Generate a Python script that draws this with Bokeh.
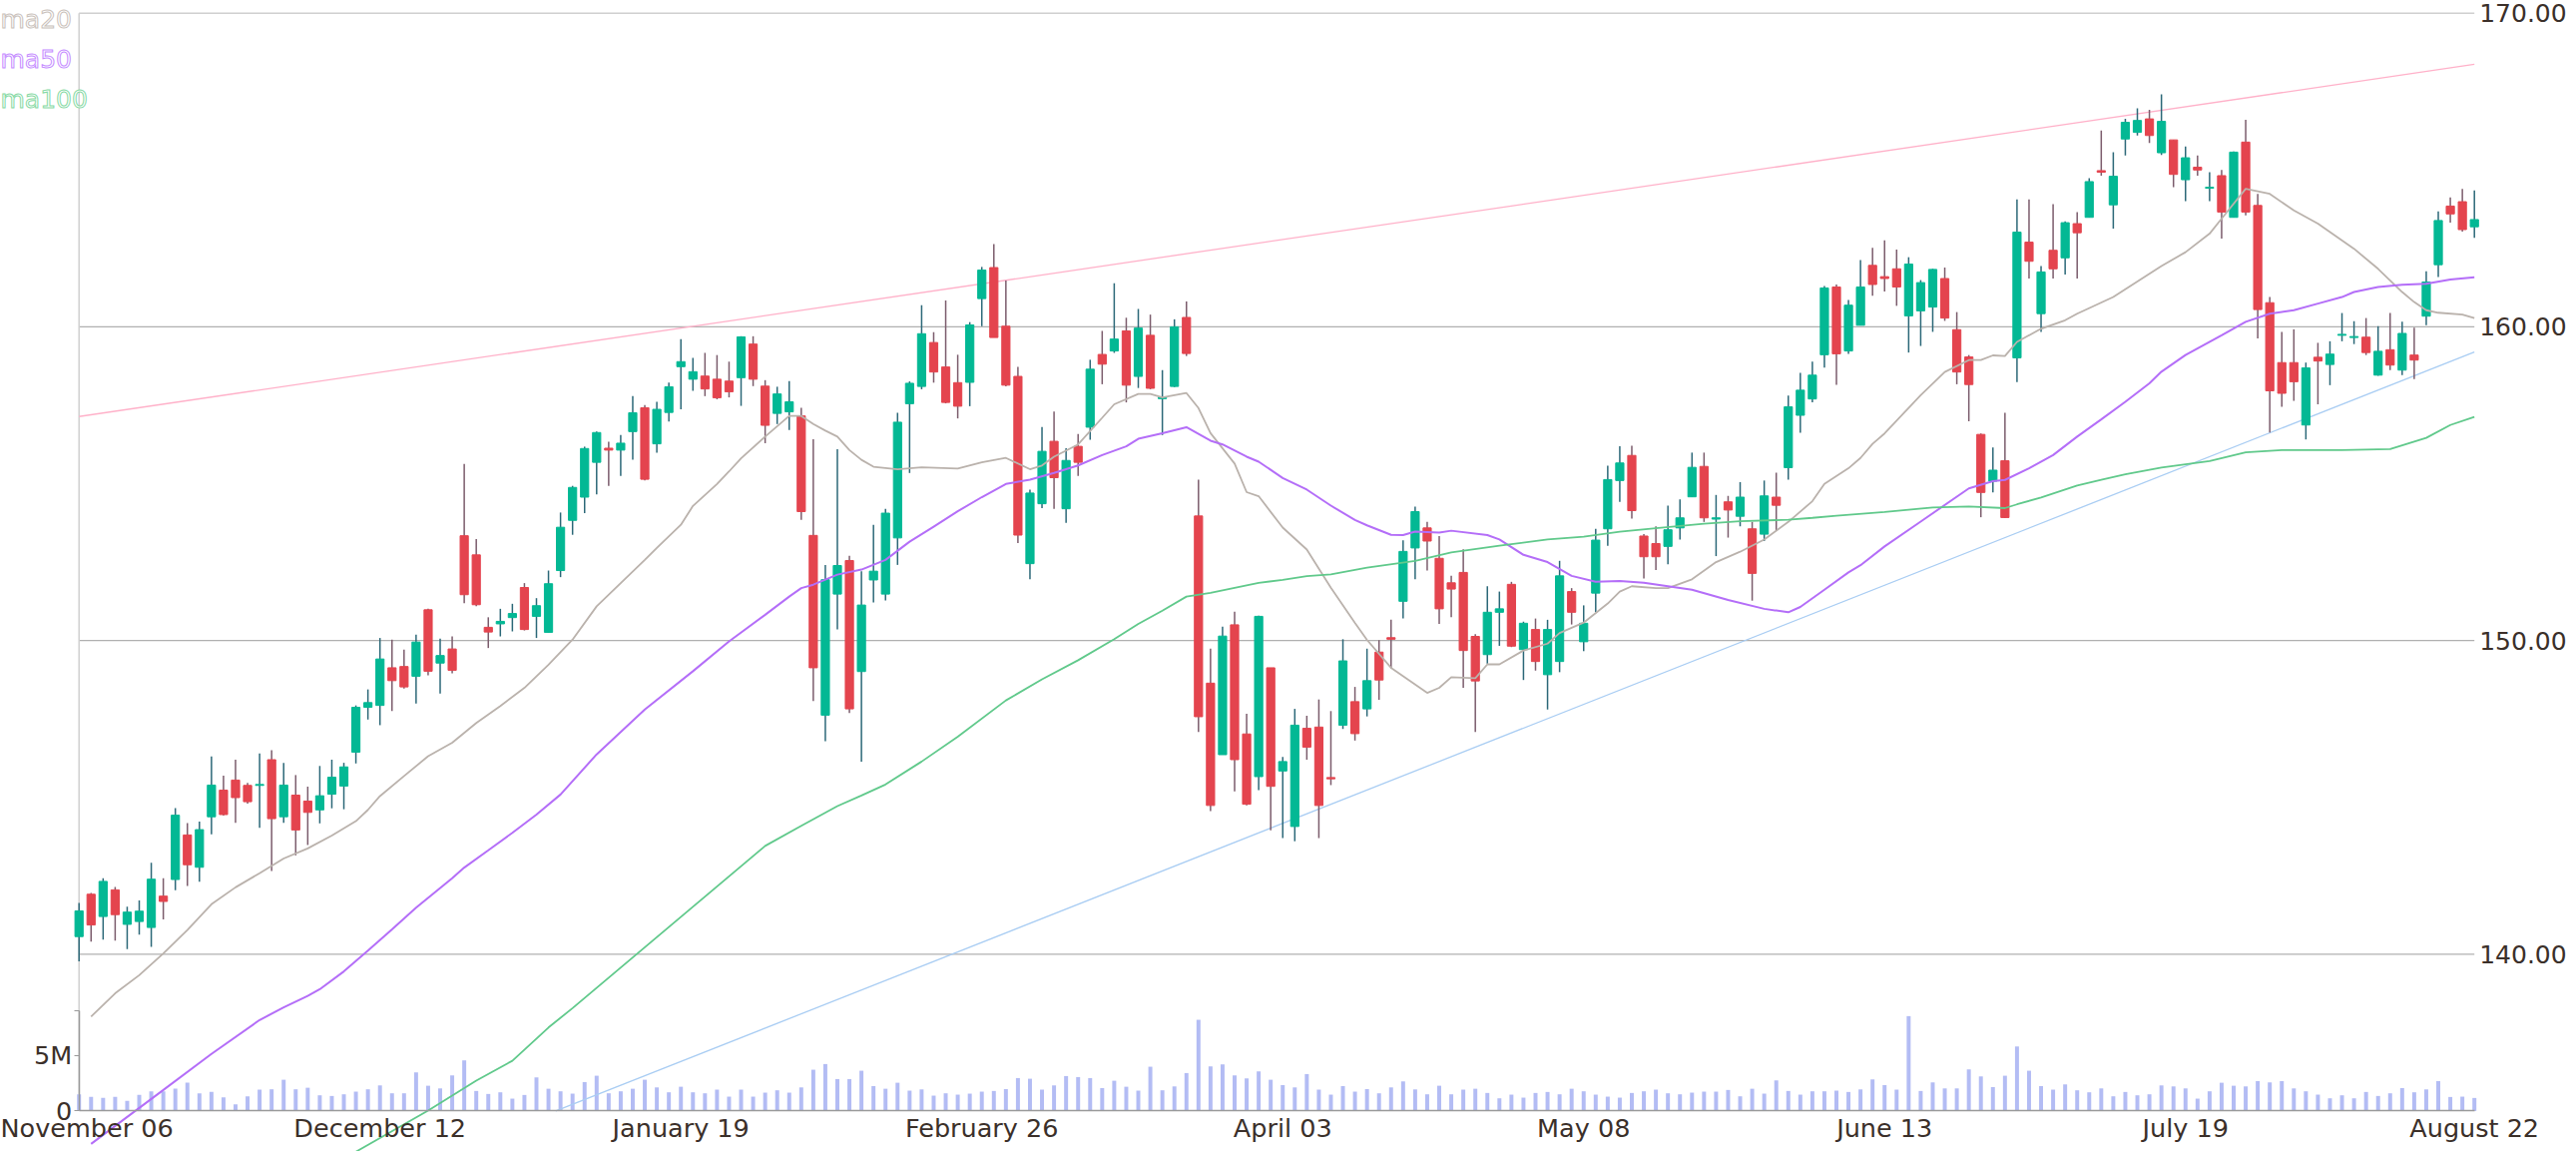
from bokeh.plotting import figure
from bokeh.models import Range1d, LinearAxis, FixedTicker, Label, ColumnDataSource, PrintfTickFormatter
from bokeh.embed import file_html
from bokeh.resources import INLINE

# ---------------- data ----------------
tick_index = [0, 25, 50, 75, 100, 125, 150, 175, 199]
tick_labels = ["November 06", "December 12", "January 19", "February 26", "April 03",
               "May 08", "June 13", "July 19", "August 22"]

open_ = [
140.56,141.91,141.20,142.05,140.95,141.04,140.85,141.85,142.38,143.80,
142.77,144.38,145.23,145.55,145.38,145.38,146.20,144.38,145.07,144.88,
144.60,145.10,145.36,146.44,147.87,147.93,149.13,149.17,148.86,150.98,
149.28,149.73,153.34,152.73,150.42,150.53,150.73,151.69,150.77,150.26,
152.23,153.83,154.57,155.68,156.13,156.07,156.66,157.42,156.27,157.27,
158.73,158.33,158.43,158.33,158.27,158.38,159.45,158.11,157.24,157.29,
157.16,153.35,147.62,151.48,152.55,149.01,151.93,151.48,153.27,157.55,
158.10,159.50,158.72,158.22,158.23,160.90,161.89,160.02,158.42,152.45,
154.36,156.35,154.20,156.19,156.80,159.12,159.23,159.87,158.42,159.73,
157.71,158.10,160.30,153.97,148.64,146.36,150.50,147.02,145.66,149.13,
145.84,144.07,147.20,147.24,145.63,147.30,148.05,147.82,149.63,150.09,
151.25,152.95,153.59,152.62,151.84,152.17,150.13,149.55,150.90,151.79,
149.71,150.35,148.91,149.33,151.56,149.96,151.51,153.56,155.10,155.90,
153.33,153.09,153.00,153.59,154.58,155.55,153.87,154.42,153.96,153.56,
153.39,154.57,155.51,157.18,157.70,159.11,161.27,159.23,160.05,161.96,
161.60,161.85,160.35,160.51,160.63,161.54,159.91,159.04,156.57,155.08,
155.73,159.01,162.70,160.42,162.44,162.20,163.29,163.49,164.98,163.89,
165.99,166.20,166.63,165.55,165.96,164.69,165.09,164.42,164.82,163.49,
165.89,163.87,160.77,158.86,158.86,156.87,159.03,158.80,159.73,159.66,
159.67,158.46,159.27,158.62,159.10,160.34,161.98,163.85,163.99,163.19]

high = [
141.63,141.95,142.42,142.14,141.51,141.71,142.91,142.42,144.66,144.18,
144.23,146.30,145.69,146.20,145.46,146.40,146.50,146.10,145.71,145.34,
146.00,146.20,146.10,147.93,148.44,150.08,150.03,149.71,150.19,151.01,
150.06,150.13,155.63,153.23,150.74,151.01,151.17,151.83,151.35,152.23,
154.08,154.93,156.18,156.66,156.34,156.55,157.79,157.51,157.61,158.22,
159.61,159.01,159.17,159.10,158.89,159.70,159.70,158.30,158.09,158.27,
157.42,156.42,152.41,156.10,152.70,152.21,153.69,154.20,157.26,158.26,
160.69,159.83,160.84,159.11,160.15,161.91,162.64,161.48,158.72,154.81,
156.81,157.30,156.13,156.58,158.95,159.87,161.39,160.29,160.57,160.39,
158.62,160.24,160.81,155.13,149.74,150.44,150.92,147.66,150.79,149.13,
146.29,147.82,147.60,148.12,147.75,150.04,148.52,149.74,150.01,150.66,
153.19,154.27,153.78,153.33,152.06,152.91,150.20,151.73,151.56,151.87,
150.60,150.70,150.66,152.54,151.67,151.12,153.56,155.57,156.19,156.21,
153.39,153.64,154.30,154.50,155.99,155.99,154.64,154.61,155.05,153.78,
155.10,155.35,157.81,158.53,158.89,161.30,161.35,160.86,162.13,162.52,
162.76,162.46,162.22,161.49,161.85,161.89,160.47,159.10,156.60,156.15,
157.26,164.06,164.06,161.94,163.91,163.36,163.66,164.74,166.26,165.57,
166.63,166.97,166.92,167.41,165.96,165.75,165.46,164.93,165.00,165.59,
166.60,164.24,160.95,159.84,159.92,158.86,159.49,159.54,160.44,160.18,
160.28,160.02,160.44,160.16,159.97,161.77,163.68,164.13,164.40,164.35]

low = [
139.77,140.40,140.46,140.43,140.16,140.62,140.23,141.11,142.04,142.17,
142.31,143.82,144.42,144.19,144.80,144.03,142.65,144.19,143.15,143.48,
144.17,144.65,144.62,146.08,147.48,147.30,147.75,148.47,147.99,148.89,
148.31,148.95,151.19,151.09,149.76,150.13,150.29,150.32,150.08,150.26,
152.02,153.37,154.06,154.66,154.93,155.25,155.76,155.10,155.99,156.98,
157.37,157.96,157.79,157.69,157.75,157.48,158.11,156.29,156.90,156.71,
153.85,148.07,146.79,150.35,147.69,146.14,151.21,151.28,152.41,155.34,
158.01,158.22,157.56,157.08,157.47,160.02,159.66,158.10,153.11,151.95,
154.22,154.20,153.75,155.25,156.40,158.17,159.17,157.59,158.05,158.01,
156.55,158.08,159.07,147.08,144.56,146.36,145.19,144.74,145.23,143.95,
143.70,143.60,146.20,143.70,145.39,147.18,146.81,147.58,148.11,149.11,
150.70,151.95,152.23,150.53,150.74,148.49,147.08,149.26,149.83,149.79,
148.74,149.04,147.80,148.99,150.51,149.66,150.90,153.02,154.42,153.89,
151.98,152.25,152.43,153.22,154.58,153.78,152.69,153.28,153.64,151.27,
153.17,153.50,155.13,156.62,157.59,158.70,158.15,159.14,160.05,160.99,
161.13,160.67,159.18,159.39,159.84,160.19,158.17,156.99,153.93,154.72,
153.90,158.24,161.54,159.84,161.54,161.67,161.54,163.49,164.82,163.13,
165.46,166.10,165.86,165.48,164.45,164.01,164.82,164.01,162.81,163.49,
163.55,159.63,156.63,157.45,157.64,156.41,157.53,158.14,159.54,159.45,
159.10,158.44,158.62,158.46,158.33,160.05,161.59,163.32,163.04,162.84]

close = [
141.38,140.93,142.32,141.26,141.34,141.37,142.39,141.68,144.43,142.85,
143.97,145.39,144.45,144.99,144.86,145.41,144.32,145.39,143.96,144.52,
145.05,145.64,145.97,147.87,148.02,149.41,148.72,148.52,149.95,149.02,
149.52,149.05,151.46,151.14,150.27,150.61,150.86,150.35,151.11,151.81,
153.61,154.88,156.12,156.63,156.07,156.29,157.26,155.14,157.37,158.09,
158.89,158.57,158.02,157.74,157.93,159.68,158.33,156.86,157.86,157.61,
154.11,149.13,151.94,152.39,147.82,151.13,152.21,154.06,156.96,158.20,
159.78,158.56,157.59,157.47,160.06,161.81,159.66,158.14,153.36,154.70,
156.03,155.19,155.74,155.68,158.65,158.81,159.61,158.14,159.96,158.04,
157.75,160.00,159.15,147.57,144.74,150.14,146.20,144.78,150.77,145.35,
146.14,147.30,146.60,144.74,145.59,149.35,147.03,148.72,148.74,150.04,
152.84,154.11,153.17,151.01,151.64,149.68,148.71,150.90,151.01,149.82,
150.55,149.33,150.35,152.06,150.90,150.55,153.20,155.13,155.66,154.14,
152.67,152.67,153.53,153.91,155.52,153.91,153.91,154.16,154.57,152.14,
154.61,154.31,157.45,157.98,158.46,161.24,159.14,160.69,161.27,161.35,
161.54,161.27,162.00,161.41,161.83,160.28,158.56,158.16,154.72,155.43,
153.92,163.02,162.09,161.75,161.85,163.32,163.00,164.63,164.93,164.80,
166.52,166.58,166.10,166.55,164.86,165.39,165.00,164.45,163.66,165.57,
163.66,160.55,157.96,157.88,158.25,158.69,158.91,159.13,159.76,159.69,
159.18,159.22,158.78,159.79,158.94,161.43,163.39,163.60,163.10,163.42]

volume_m = [
1.50,1.26,1.17,1.26,0.90,1.44,1.77,1.77,2.00,2.54,
1.59,1.71,1.23,0.60,1.32,1.92,1.95,2.81,1.95,2.09,
1.41,1.35,1.50,1.74,1.95,2.30,1.59,1.59,3.47,2.27,
2.03,3.20,4.55,1.80,1.53,1.68,1.11,1.44,3.02,2.00,
1.77,1.56,2.60,3.17,1.59,1.77,2.00,2.81,2.12,1.68,
2.18,1.68,1.59,1.92,1.29,1.92,1.29,1.65,1.86,1.65,
2.12,3.71,4.22,2.87,2.87,3.62,2.24,2.00,2.54,1.83,
1.94,1.38,1.59,1.47,1.56,1.74,1.80,1.97,2.96,2.90,
1.92,2.30,3.14,3.05,2.96,2.06,2.72,2.18,1.83,3.98,
1.86,2.21,3.41,8.20,4.01,4.19,3.20,2.93,3.56,2.81,
2.33,2.12,3.32,1.92,1.47,2.24,1.74,1.97,1.59,2.12,
2.66,1.94,1.50,2.27,1.50,1.92,2.00,1.62,1.14,1.47,
1.20,1.62,1.71,1.50,2.00,1.77,1.47,1.29,1.20,1.62,
1.77,1.92,1.59,1.50,1.65,1.74,1.74,1.89,1.32,2.00,
1.56,2.75,1.80,1.47,1.77,1.77,1.83,1.71,1.94,2.84,
2.33,1.92,8.53,1.80,2.57,2.03,2.03,3.74,3.11,2.15,
3.17,5.80,3.62,2.24,1.92,2.39,1.86,1.68,2.03,1.32,
1.71,1.41,1.50,2.30,2.21,2.03,1.11,1.77,2.54,2.27,
2.21,2.69,2.57,2.69,2.03,1.77,1.47,1.14,1.41,1.14,
1.71,1.35,1.59,2.06,1.68,1.94,2.69,1.26,1.29,1.17]

ma20_x = [1,3,5,7,9,11,13,15,17,19,21,23,24,25,27,29,31,33,35,37,39,41,43,45,47,48,50,51,53,54,
          55,57,59,60,61,62,63,64,65,66,68,70,73,75,77,79,80,81,83,85,86,88,89,90,92,93,94,96,97,98,
          100,102,104,106,107,109,112,113,114,116,117,118,120,122,123,125,127,128,129,131,132,134,136,138,140,142,144,145,147,148,
          149,150,153,155,157,158,159,160,161,163,165,166,169,173,175,177,178,180,182,184,186,189,191,193,194,195,196,198,199]
ma20 = [138.01,138.75,139.33,140.02,140.77,141.59,142.13,142.58,143.05,143.37,143.78,144.24,144.60,145.04,145.68,146.31,146.74,147.37,147.91,148.49,149.23,150.03,151.09,151.83,152.57,152.95,153.69,154.29,154.99,155.39,
        155.81,156.50,157.16,157.16,156.90,156.69,156.50,156.07,155.76,155.54,155.46,155.52,155.48,155.68,155.82,155.46,155.58,155.86,156.25,157.10,157.53,157.86,157.86,157.75,157.89,157.41,156.61,155.64,154.73,154.60,
        153.60,152.90,151.68,150.56,150.02,149.13,148.33,148.49,148.83,148.80,149.24,149.24,149.68,149.90,150.24,150.57,151.18,151.56,151.73,151.67,151.67,151.95,152.50,152.83,153.22,153.78,154.44,154.99,155.49,155.82,
        156.27,156.60,157.82,158.56,158.94,158.94,159.09,159.07,159.52,159.94,160.21,160.42,160.95,161.94,162.38,162.97,163.45,164.40,164.24,163.71,163.29,162.49,161.85,161.11,160.79,160.53,160.45,160.39,160.28]

ma50_x = [1,7,11,15,17,19,20,22,24,26,28,31,32,34,36,38,40,43,47,51,54,57,59,60,61,63,65,67,69,71,
          73,75,77,79,81,83,85,87,88,90,92,94,95,97,98,100,102,104,106,107,109,110,111,113,114,117,118,120,122,124,
          126,128,130,134,137,140,142,143,145,147,148,150,153,157,159,160,162,164,166,168,170,172,173,175,178,180,182,184,186,188,
          189,191,193,195,197,199]
ma50 = [133.95,135.67,136.82,137.90,138.30,138.67,138.88,139.45,140.11,140.79,141.48,142.42,142.76,143.31,143.87,144.45,145.09,146.37,147.80,149.02,149.97,150.82,151.40,151.67,151.78,152.10,152.26,152.57,153.15,153.63,
        154.12,154.57,154.99,155.13,155.34,155.58,155.91,156.19,156.43,156.61,156.80,156.37,156.25,155.86,155.70,155.18,154.81,154.30,153.84,153.67,153.37,153.36,153.47,153.44,153.50,153.36,153.22,152.73,152.50,152.06,
        151.87,151.90,151.84,151.62,151.29,151.01,150.90,151.07,151.62,152.17,152.40,153.00,153.79,154.85,155.08,155.12,155.49,155.91,156.50,157.05,157.61,158.20,158.57,159.10,159.73,160.16,160.42,160.53,160.74,160.95,
        161.11,161.27,161.34,161.37,161.51,161.58]

ma100_x = [23,29,33,36,39,41,57,60,63,65,67,70,73,77,80,83,86,88,90,92,94,96,98,100,102,104,106,107,111,114,
           118,122,125,128,131,135,138,142,144,146,150,154,157,160,161,163,166,168,170,173,177,180,183,188,192,195,197,199]
ma100 = [133.70,135.01,135.97,136.60,137.66,138.28,143.45,144.09,144.72,145.06,145.41,146.14,146.93,148.09,148.76,149.37,150.04,150.53,150.95,151.40,151.52,151.68,151.84,151.93,152.05,152.11,152.25,152.32,152.54,152.81,
         153.02,153.22,153.31,153.47,153.58,153.72,153.80,153.85,153.91,153.98,154.10,154.24,154.27,154.22,154.34,154.56,154.94,155.12,155.30,155.51,155.72,156.00,156.07,156.07,156.10,156.46,156.87,157.13]

trend_upper_x = [0, 199]
trend_upper_y = [157.14, 168.37]
trend_lower_x = [39.6, 199]
trend_lower_y = [135.0, 159.2]

price_ticks = [140, 150, 160, 170]
volume_ticks = [0, 5e6, 8.98e6]
price_floor = 135  # price level of the volume zero line

# ---------------- figure ----------------
FONT = "DejaVu Sans"
TXT = "#3b302a"
N = min(len(open_), len(high), len(low), len(close), len(volume_m))
xs = list(range(N))
last = xs[-1]
up = [close[i] >= open_[i] for i in range(N)]
src = ColumnDataSource(dict(
    x=xs, o=open_[:N], h=high[:N], l=low[:N], c=close[:N],
    top=[max(open_[i], close[i]) for i in range(N)],
    bot=[min(open_[i], close[i]) for i in range(N)],
    body=["#03b894" if u else "#e4444e" for u in up],
    wick=["#2c6878" if u else "#7b5c6c" for u in up],
    vol=[v * 1e6 for v in volume_m[:N]],
))

W, H = 2573, 1153
PX_PER_DOLLAR = 31.42
TOP_170 = 12.7                      # canvas y of the 170 line
LEFT0, RIGHT_LAST = 78.7, 2478.7    # canvas x of first / last bar
px_per_bar = (RIGHT_LAST - LEFT0) / last
x_lo = -LEFT0 / px_per_bar
x_hi = last + (W - RIGHT_LAST) / px_per_bar
y_hi = price_ticks[-1] + TOP_170 / PX_PER_DOLLAR
y_lo = y_hi - H / PX_PER_DOLLAR
zero_px = (y_hi - price_floor) * PX_PER_DOLLAR
vol_per_px = 5e6 / 55.7

p = figure(width=W, height=H, output_backend="svg", toolbar_location=None,
           title=None, x_range=Range1d(x_lo, x_hi), y_range=Range1d(y_lo, y_hi),
           y_axis_location="right", min_border_left=0, min_border_top=0,
           min_border_bottom=0, min_border_right=0)
p.outline_line_color = None
p.background_fill_color = "white"
p.extra_y_ranges = {"vol": Range1d(-(H - zero_px) * vol_per_px, zero_px * vol_per_px)}
p.xgrid.grid_line_color = None
p.ygrid.grid_line_color = None

# price axis, fixed just right of the last bar
ya = p.yaxis[0]
ya.fixed_location = last
ya.ticker = FixedTicker(ticks=price_ticks)
ya.formatter = PrintfTickFormatter(format="%.2f")
ya.axis_line_color = None
ya.major_tick_line_color = None
ya.major_tick_out = 0
ya.major_tick_in = 0
ya.minor_tick_line_color = None
ya.minor_tick_out = 0
ya.major_label_standoff = 5
ya.major_label_text_font = FONT
ya.major_label_text_font_size = "25px"
ya.major_label_text_color = TXT

# date axis, on the volume zero line
xa = p.xaxis[0]
xa.fixed_location = price_floor
xa.bounds = (0, last)
xa.ticker = FixedTicker(ticks=tick_index)
xa.major_label_overrides = {t: s for t, s in zip(tick_index, tick_labels)}
xa.axis_line_color = "#9a9a9a"
xa.axis_line_width = 1.5
xa.major_tick_line_color = None
xa.major_tick_out = 0
xa.major_tick_in = 0
xa.minor_tick_line_color = None
xa.minor_tick_out = 0
xa.major_label_standoff = 2
xa.major_label_text_font = FONT
xa.major_label_text_font_size = "25.5px"
xa.major_label_text_color = TXT

# volume axis at the first bar
vax = LinearAxis(y_range_name="vol", ticker=FixedTicker(ticks=volume_ticks),
                 bounds=(0, volume_ticks[-1]), fixed_location=0)
vax.major_label_overrides = {0: "0", 5e6: "5M", volume_ticks[-1]: ""}
vax.axis_line_color = "#9a9a9a"
vax.axis_line_width = 1.5
vax.major_tick_line_color = "#9a9a9a"
vax.major_tick_out = 5
vax.major_tick_in = 0
vax.minor_tick_line_color = None
vax.major_label_standoff = 2
vax.major_label_text_font = FONT
vax.major_label_text_font_size = "25.5px"
vax.major_label_text_color = TXT
p.add_layout(vax, "left")

# horizontal price grid lines (first to last bar) and left border line
grid_levels = price_ticks[:-1]
p.segment(x0=[0] * len(grid_levels), y0=grid_levels, x1=[last] * len(grid_levels), y1=grid_levels,
          line_color="#b0b0b0", line_width=1.2)
p.segment(x0=[0], y0=[price_ticks[-1]], x1=[last], y1=[price_ticks[-1]], line_color="#d0d0d0", line_width=1.5)
p.segment(x0=[0], y0=[price_floor], x1=[0], y1=[price_ticks[-1]], line_color="#d0d0d0", line_width=1.5)

# volume bars
p.vbar(x="x", width=0.33, top="vol", bottom=0, source=src, y_range_name="vol",
       fill_color="#b3bcf4", line_color=None)

# trend lines
p.line(trend_upper_x, trend_upper_y, line_color="#ffb1c9", line_width=1.3)
p.line(trend_lower_x, trend_lower_y, line_color="#a9cdf3", line_width=1.3)

# candles
p.segment(x0="x", y0="l", x1="x", y1="h", source=src, line_color="wick", line_width=1.5)
p.vbar(x="x", width=0.68, top="top", bottom="bot", source=src,
       fill_color="body", line_color="body", line_width=1)

# moving averages
p.line(ma20_x, ma20, line_color="#bab2ac", line_width=1.8)
p.line(ma50_x, ma50, line_color="#b46ef8", line_width=2)
p.line(ma100_x, ma100, line_color="#60c98b", line_width=1.8)

# legend texts (top-left corner)
for i, (txt, col) in enumerate([("ma20", "#c9c1bb"), ("ma50", "#c58cff"), ("ma100", "#86d9a4")]):
    baseline_px = 18.7 + 40 * i
    p.add_layout(Label(x=x_lo, y=y_hi - baseline_px / PX_PER_DOLLAR, text=txt,
                       text_font=FONT, text_font_size="25px",
                       text_color="white", text_outline_color=col,
                       text_baseline="alphabetic", text_align="left"))

open("out.html", "w").write(file_html(p, INLINE))
